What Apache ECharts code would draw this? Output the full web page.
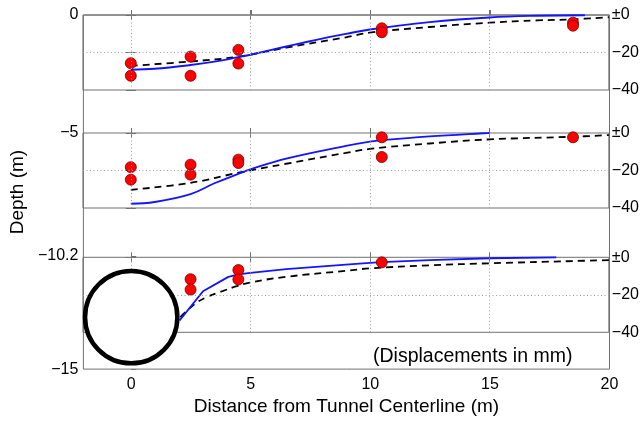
<!DOCTYPE html>
<html><head><meta charset="utf-8">
<script src="https://cdn.jsdelivr.net/npm/echarts@6/dist/echarts.min.js"></script>
<style>html,body{margin:0;padding:0;background:#fff}#c{width:642px;height:421px}</style>
</head><body><div id="c"></div>
<script>
// ---- data ----
const depthTicks = [0, -5, -10.2, -15];
const depthTickLabels = ['0', '\u22125', '\u221210.2', '\u221215'];
const distanceTicks = [0, 5, 10, 15, 20];
const gridDistances = [0, 5, 10, 15];
const dispTicks = [0, -20, -40];
const dispTickLabels = ['\u00b10', '\u221220', '\u221240'];
const dispGrid = [-20];
const tunnel = [[0, -12.8, 1.93]]; // centre distance, centre depth, radius (m)
const noteText = '(Displacements in mm)';
const xTitle = 'Distance from Tunnel Centerline (m)';
const yTitle = 'Depth (m)';

// panel 1 (depth 0 m)
const p1Measured = [[0,-25.7],[0,-32.4],[2.5,-22.2],[2.5,-32.4],[4.5,-18.6],[4.5,-25.9],[10.5,-7.1],[10.5,-9.2],[18.5,-4.1],[18.5,-5.7]];
const p1Blue = [[0,-29.2],[1,-28.7],[2.5,-26.7],[3.5,-24.9],[4.5,-22.5],[5,-21.2],[6.5,-16.8],[8,-12.6],[9,-10.1],[10,-7.7],[12.5,-3.8],[15,-1.3],[17,-0.4],[19,-0.1]];
const p1Dashed = [[0,-27.1],[2.5,-24.8],[4.5,-22.2],[6.5,-17.4],[9,-11.9],[10,-9.4],[12.5,-6.4],[15,-4.1],[17,-2.9],[18.5,-2.3],[20,-1.2]];

// panel 2 (depth -5 m)
const p2Measured = [[0,-18.2],[0,-24.9],[2.5,-16.9],[2.5,-22.2],[4.5,-14.2],[4.5,-16.0],[10.5,-2.3],[10.5,-12.8],[18.5,-2.3]];
const p2Blue = [[0,-37.7],[1,-36.8],[2.5,-32.6],[3.5,-26.8],[4.5,-21.8],[5,-19.4],[6.5,-13.7],[9,-6.9],[10,-4.6],[10.5,-3.8],[12.5,-1.8],[15,0]];
const p2Dashed = [[0,-30.3],[2.5,-26.6],[4.5,-21.2],[6.5,-16.4],[9,-10.6],[10,-8.5],[12.5,-5.6],[15,-3.4],[18.5,-2.0],[20,-1.1]];

// panel 3 (depth -10.2 m)
const p3Measured = [[2.5,-11.7],[2.5,-17.2],[4.5,-6.8],[4.5,-11.8],[10.5,-2.7]];
const p3Blue = [[2.04,-33.7],[3.02,-18.1],[4.08,-10.4],[4.5,-9.1],[5,-8.3],[6.5,-6.3],[9,-3.9],[10,-3.0],[10.5,-2.6],[12.5,-1.5],[15,-0.5],[17.8,0]];
const p3Dashed = [[2.07,-31.9],[2.7,-24.7],[3.18,-21.2],[3.74,-18.5],[4.43,-15.4],[5,-13.4],[6.5,-10.4],[9,-7.2],[10,-5.9],[12.5,-4.3],[15,-3.2],[18.5,-2.0],[20,-1.5]];

const panels = [
  {measured: p1Measured, blue: p1Blue, dashed: p1Dashed, top: 15, smoothBlue: 0.4},
  {measured: p2Measured, blue: p2Blue, dashed: p2Dashed, top: 133, smoothBlue: 0.4},
  {measured: p3Measured, blue: p3Blue, dashed: p3Dashed, top: 257.3, smoothBlue: false}
];

// ---- chart ----
const FONT = '"Liberation Sans", Arial, Helvetica, sans-serif';
const BOX = '#707070';
const DOT = {color: '#a0a0a0', type: [1, 2.5], width: 1};
const chart = echarts.init(document.getElementById('c'), null, {renderer: 'canvas'});

const grid = [{left: 83, right: 32.5, top: 15, height: 357.5, show: true, borderColor: BOX, borderWidth: 1, backgroundColor: 'transparent'}];
const xAxis = [{
  gridIndex: 0, type: 'value', min: -2, max: 20,
  axisLine: {show: false}, splitLine: {show: false},
  axisTick: {inside: true, length: 5, customValues: gridDistances, lineStyle: {color: BOX}},
  axisLabel: {customValues: distanceTicks, color: '#000', fontSize: 16, fontFamily: FONT, margin: 7},
  name: xTitle, nameLocation: 'middle', nameGap: 25,
  nameTextStyle: {color: '#000', fontSize: 19, fontFamily: FONT}
}];
const yAxis = [{
  gridIndex: 0, type: 'value', min: -15, max: 0,
  axisLine: {show: false}, splitLine: {show: false},
  axisTick: {inside: true, length: 5, customValues: depthTicks, lineStyle: {color: BOX}},
  axisLabel: {customValues: depthTicks, color: '#000', fontSize: 16, fontFamily: FONT, margin: 5,
    formatter: v => depthTickLabels[depthTicks.findIndex(t => Math.abs(t - v) < 1e-6)] || ''},
  name: yTitle, nameLocation: 'middle', nameGap: 55, nameRotate: 90,
  nameTextStyle: {color: '#000', fontSize: 19, fontFamily: FONT}
}];
const series = [];

panels.forEach((p, i) => {
  const gi = i + 1;
  grid.push({left: 83, right: 32.5, top: p.top, height: 75, show: true, borderColor: BOX, borderWidth: 1, backgroundColor: 'transparent'});
  const xi = xAxis.length;
  ['bottom', 'top'].forEach(pos => xAxis.push({
    gridIndex: gi, type: 'value', min: -2, max: 20, position: pos,
    axisLine: {show: false}, splitLine: {show: false}, axisLabel: {show: false},
    axisTick: {inside: true, length: 5, customValues: gridDistances, lineStyle: {color: BOX}}
  }));
  const yi = yAxis.length;
  yAxis.push({
    gridIndex: gi, type: 'value', min: -40, max: 0, interval: 20, position: 'right',
    axisLine: {show: false},
    axisTick: {inside: true, length: 5, lineStyle: {color: BOX}},
    axisLabel: {color: '#000', fontSize: 16, fontFamily: FONT, margin: 3,
      formatter: v => dispTickLabels[dispTicks.indexOf(v)] || ''},
    splitLine: {show: false}
  });
  yAxis.push({
    gridIndex: gi, type: 'value', min: -40, max: 0, interval: 20, position: 'left',
    axisLine: {show: false}, axisLabel: {show: false}, splitLine: {show: false},
    axisTick: {inside: true, length: 5, lineStyle: {color: BOX}}
  });
  series.push({
    type: 'line', xAxisIndex: xi, yAxisIndex: yi, data: p.dashed, showSymbol: false, symbol: 'none',
    smooth: 0.4, z: 2,
    lineStyle: {color: '#000', width: 1.8, type: [7, 5]},
    markLine: {silent: true, symbol: ['none', 'none'], label: {show: false},
      lineStyle: DOT, emphasis: {disabled: true},
      data: gridDistances.map(d => ({xAxis: d})).concat(dispGrid.map(v => ({yAxis: v})))}
  });
  series.push({
    type: 'line', xAxisIndex: xi, yAxisIndex: yi, data: p.blue, showSymbol: false, symbol: 'none',
    smooth: p.smoothBlue, z: 3,
    lineStyle: {color: '#1414ff', width: 1.9}
  });
  series.push({
    type: 'scatter', xAxisIndex: xi, yAxisIndex: yi, data: p.measured, symbolSize: 11, z: 4,
    itemStyle: {color: '#ff0000', borderColor: '#700000', borderWidth: 0.8, opacity: 1}
  });
});

series.push({
  type: 'custom', xAxisIndex: 0, yAxisIndex: 0, data: tunnel, z: 10, clip: false,
  encode: {x: 0, y: 1},
  renderItem: (params, api) => {
    const c = api.coord([api.value(0), api.value(1)]);
    const r = api.size([api.value(2), 0])[0];
    return {type: 'circle', shape: {cx: c[0], cy: c[1], r: r},
      style: {fill: '#fff', stroke: '#000', lineWidth: 4.5}};
  }
});

chart.setOption({
  animation: false,
  backgroundColor: '#fff',
  grid, xAxis, yAxis, series,
  graphic: [{type: 'text', left: 373, top: 347, z: 20,
    style: {text: noteText, fill: '#000', font: '19.5px ' + FONT}}]
});
</script></body></html>
